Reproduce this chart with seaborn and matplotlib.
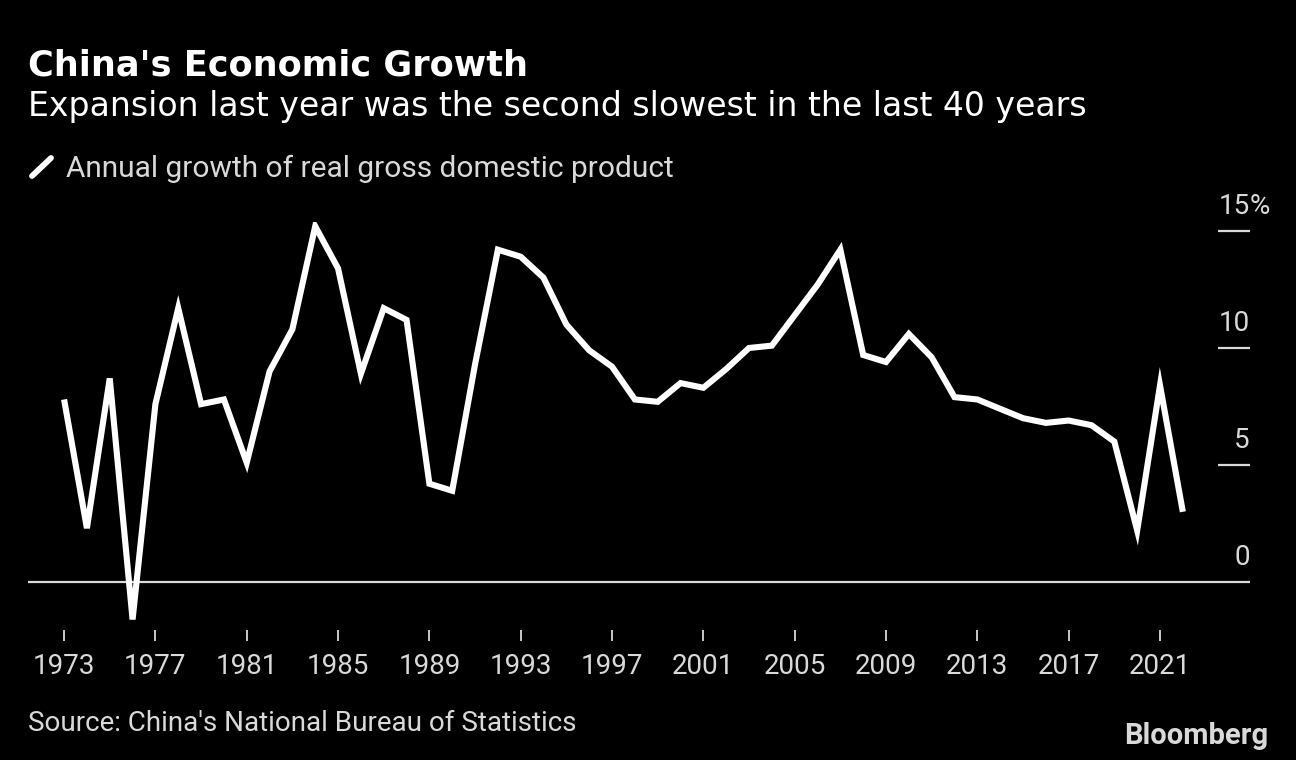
import matplotlib
matplotlib.use("Agg")
import matplotlib.pyplot as plt
import matplotlib.lines as mlines
import matplotlib.transforms as mtrans
import seaborn as sns
import pandas as pd

years = list(range(1973, 2023))
growth = [7.8, 2.3, 8.7, -1.6, 7.6, 11.7, 7.6, 7.8, 5.1, 9.0,
          10.8, 15.2, 13.4, 8.9, 11.7, 11.2, 4.2, 3.9, 9.3, 14.2,
          13.9, 13.0, 11.0, 9.9, 9.2, 7.8, 7.7, 8.5, 8.3, 9.1,
          10.0, 10.1, 11.4, 12.7, 14.2, 9.7, 9.4, 10.6, 9.6, 7.9,
          7.8, 7.4, 7.0, 6.8, 6.9, 6.7, 6.0, 2.2, 8.4, 3.0]
xtick_years = list(range(1973, 2022, 4))
ytick_vals = [0, 5, 10, 15]
ytick_labels = ["0", "5", "10", "15"]

title = "China's Economic Growth"
subtitle = "Expansion last year was the second slowest in the last 40 years"
legend_label = "Annual growth of real gross domestic product"
source = "Source: China's National Bureau of Statistics"

df = pd.DataFrame({"year": years, "growth": growth})

sns.set_theme(style="dark")
FAM = ["Roboto", "DejaVu Sans"]
plt.rcParams["font.family"] = FAM

BG = "#000000"
FG = "#d9d9d9"
W, H = 1296, 760
fig = plt.figure(figsize=(W / 100, H / 100), dpi=100, facecolor=BG)

def fx(px):
    return px / W

def fy(py):
    return 1 - py / H

ax_left, ax_right, ax_top, ax_bottom = 28, 1218, 221.6, 630
ax = fig.add_axes([fx(ax_left), fy(ax_bottom), fx(ax_right - ax_left), (ax_bottom - ax_top) / H])
ax.set_facecolor(BG)

sns.lineplot(data=df, x="year", y="growth", ax=ax, color="white", linewidth=4.4,
             solid_joinstyle="miter", solid_capstyle="butt")
ax.axhline(0, color=FG, linewidth=1.6, zorder=1)

ax.set_xlim(1971.42, 2023.54)
ax.set_ylim(-2.05, 15.4)
ax.set_xlabel("")
ax.set_ylabel("")
for s in ax.spines.values():
    s.set_visible(False)
ax.grid(False)

ax.set_xticks(xtick_years)
ax.set_xticklabels([str(y) for y in xtick_years])
ax.tick_params(axis="x", direction="out", length=8.2, width=1.3, color=FG,
               labelcolor=FG, labelsize=20, pad=8, bottom=True)
ax.yaxis.tick_right()
ax.set_yticks(ytick_vals)
ax.set_yticklabels([])
ax.tick_params(axis="y", direction="out", length=23, width=1.6, color=FG, right=True, left=False)

# y labels above tick lines, right-aligned at tick end
off = mtrans.offset_copy(ax.get_yaxis_transform(), fig=fig, x=23, y=12.5, units="points")
for v, lab in zip(ytick_vals, ytick_labels):
    ax.text(1.0, v, lab, transform=off, ha="right", va="baseline", color=FG, fontsize=20)
    if v == 15:
        ax.text(1.0, v, "%", transform=off, ha="left", va="baseline", color=FG, fontsize=20)

fig.text(fx(28), fy(75), title, color="white", fontsize=25.3, fontweight="bold", va="baseline",
         ha="left", family=["DejaVu Sans"])
fig.text(fx(28), fy(116), subtitle, color="white", fontsize=23.9, va="baseline", ha="left",
         family=["DejaVu Sans"])

# legend icon
fig.add_artist(mlines.Line2D([fx(32), fx(51)], [fy(176), fy(158)], color="white", linewidth=4.2,
                             solid_capstyle="round"))
fig.text(fx(66), fy(177), legend_label, color=FG, fontsize=21.5, va="baseline", ha="left")

fig.text(fx(28), fy(731), source, color=FG, fontsize=20, va="baseline", ha="left")
fig.text(fx(1268), fy(744), "Bloomberg", color=FG, fontsize=21, fontweight="bold",
         va="baseline", ha="right")

fig.savefig("out.png", dpi=100, facecolor=BG)
